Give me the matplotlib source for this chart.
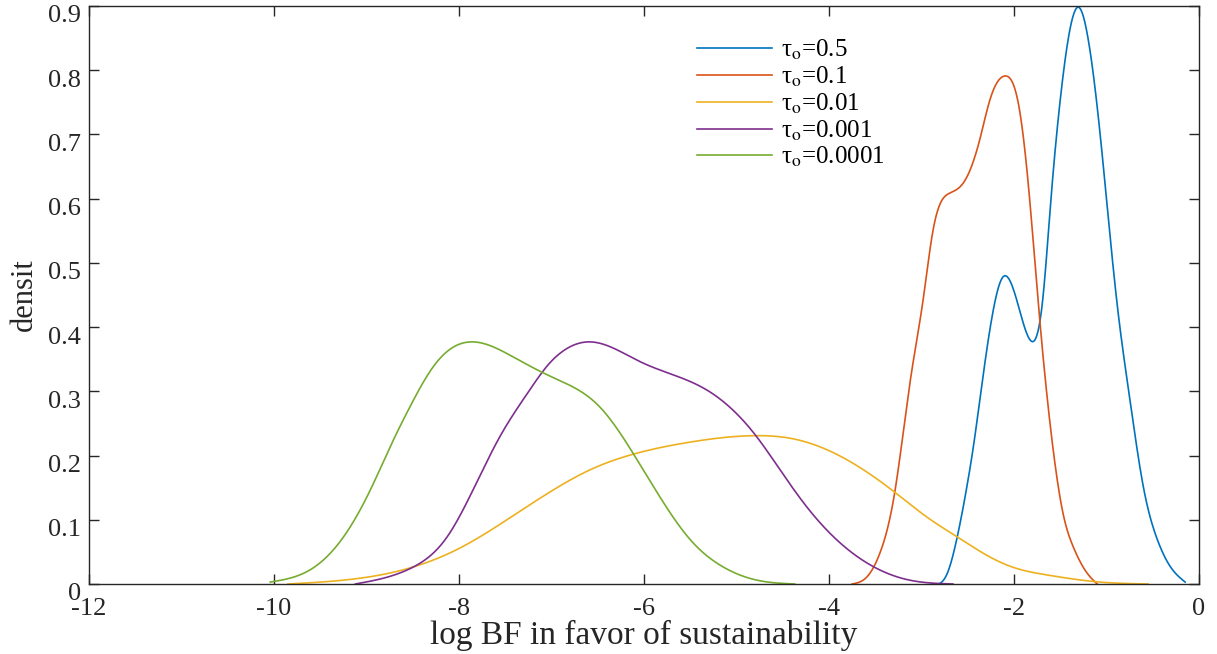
import numpy as np
import matplotlib
matplotlib.use('Agg')
import matplotlib.pyplot as plt
import matplotlib.transforms as mtransforms

plt.rcParams['font.family'] = 'Liberation Serif'
plt.rcParams['mathtext.fontset'] = 'stix'
plt.rcParams['axes.unicode_minus'] = False

# density curves (x = log BF, y = density)
x_05 = [-2.89, -2.72, -2.62, -2.51, -2.44, -2.34, -2.23, -2.12, -1.97, -1.82,
        -1.69, -1.60, -1.50, -1.40, -1.30, -1.20, -1.07, -0.89, -0.75, -0.60,
        -0.45, -0.31, -0.15]
y_05 = [0.0, 0.017, 0.069, 0.151, 0.213, 0.318, 0.422, 0.478, 0.442, 0.379,
        0.442, 0.60, 0.754, 0.86, 0.898, 0.85, 0.702, 0.442, 0.29, 0.15,
        0.069, 0.027, 0.003]

x_01 = [-3.75, -3.59, -3.45, -3.29, -3.12, -2.98, -2.88, -2.69, -2.55, -2.37,
        -2.26, -2.10, -1.94, -1.83, -1.74, -1.58, -1.47, -1.36, -1.21, -1.10]
y_01 = [0.0, 0.011, 0.048, 0.142, 0.318, 0.445, 0.547, 0.609, 0.624, 0.692,
        0.754, 0.791, 0.738, 0.598, 0.442, 0.213, 0.110, 0.058, 0.017, 0.0]

x_001 = [-9.85, -9.07, -8.53, -7.99, -7.45, -7.02, -6.58, -6.12, -5.50, -4.78,
         -4.42, -3.99, -3.29, -2.94, -2.61, -2.26, -2.01, -1.64, -1.07, -0.55]
y_001 = [0.0, 0.009, 0.025, 0.056, 0.103, 0.143, 0.178, 0.202, 0.221, 0.231,
         0.227, 0.207, 0.143, 0.104, 0.073, 0.042, 0.026, 0.014, 0.003, 0.0]

x_0001 = [-9.12, -8.50, -8.13, -7.85, -7.56, -7.26, -7.02, -6.91, -6.58, -6.04,
          -5.69, -5.32, -5.04, -4.78, -4.53, -4.24, -3.99, -3.88, -3.52, -3.16,
          -2.66]
y_0001 = [0.0, 0.026, 0.073, 0.146, 0.229, 0.297, 0.344, 0.359, 0.377, 0.346,
          0.326, 0.302, 0.271, 0.229, 0.178, 0.120, 0.079, 0.064, 0.027, 0.007,
          0.0]

x_00001 = [-10.04, -9.61, -9.25, -8.96, -8.71, -8.53, -8.28, -8.06, -7.85, -7.42,
           -7.05, -6.77, -6.48, -6.12, -5.83, -5.50, -5.15, -4.78, -4.37]
y_00001 = [0.003, 0.022, 0.073, 0.146, 0.224, 0.276, 0.338, 0.369, 0.377, 0.354,
           0.326, 0.307, 0.276, 0.204, 0.136, 0.069, 0.027, 0.006, 0.0]

labels = ['τ$_\\mathrm{o}$=0.5', 'τ$_\\mathrm{o}$=0.1', 'τ$_\\mathrm{o}$=0.01',
          'τ$_\\mathrm{o}$=0.001', 'τ$_\\mathrm{o}$=0.0001']
colors = ['#0072BD', '#D95319', '#EDB120', '#7E2F8E', '#77AC30']
series = [(x_05, y_05), (x_01, y_01), (x_001, y_001), (x_0001, y_0001), (x_00001, y_00001)]


def smooth(xs, ys, n=400):
    # natural cubic spline through the read points, only for drawing
    xs = np.asarray(xs, float)
    ys = np.asarray(ys, float)
    N = len(xs)
    h = np.diff(xs)
    A = np.zeros((N, N))
    b = np.zeros(N)
    A[0, 0] = A[-1, -1] = 1
    for i in range(1, N - 1):
        A[i, i - 1] = h[i - 1]
        A[i, i] = 2 * (h[i - 1] + h[i])
        A[i, i + 1] = h[i]
        b[i] = 6 * ((ys[i + 1] - ys[i]) / h[i] - (ys[i] - ys[i - 1]) / h[i - 1])
    M = np.linalg.solve(A, b)
    xx = np.linspace(xs[0], xs[-1], n)
    k = np.clip(np.searchsorted(xs, xx) - 1, 0, N - 2)
    a = xs[k + 1] - xx
    c = xx - xs[k]
    hk = h[k]
    yy = (M[k] * a**3 / (6 * hk) + M[k + 1] * c**3 / (6 * hk)
          + (ys[k] / hk - M[k] * hk / 6) * a + (ys[k + 1] / hk - M[k + 1] * hk / 6) * c)
    return xx, np.clip(yy, 0, None)


fig = plt.figure(figsize=(12.17, 6.54), dpi=100)
ax = fig.add_axes([89 / 1217, 70 / 654, 1110 / 1217, 578 / 654])

for (xs, ys), c, lab in zip(series, colors, labels):
    xx, yy = smooth(xs, ys)
    ax.plot(xx, yy, color=c, lw=1.2, label=lab)

ax.set_xlim(-12, 0)
ax.set_ylim(0, 0.9)
ax.set_xticks(np.arange(-12, 1, 2))
ax.set_yticks(np.arange(0, 0.91, 0.1))
ax.set_yticklabels(['0'] + ['%.1f' % v for v in np.arange(0.1, 0.91, 0.1)])
ax.tick_params(direction='in', top=True, right=True, length=7, width=1.0,
               labelsize=19, colors='#262626', pad=6)
ax.tick_params(axis='x', pad=10)
for s in ax.spines.values():
    s.set_color('#262626')
    s.set_linewidth(1.0)

# MATLAB puts the y tick labels a bit below the ticks
off = mtransforms.ScaledTranslation(0, -8 / 100, fig.dpi_scale_trans)
for lab in ax.get_yticklabels():
    lab.set_transform(lab.get_transform() + off)

ax.set_ylabel('densit', fontsize=22, color='#262626', labelpad=6)
ax.set_xlabel('log BF in favor of sustainability', fontsize=24, color='#262626', labelpad=0)

ax.legend(loc='upper left', bbox_to_anchor=(598 / 1110, 0.962), frameon=False,
          fontsize=18, handlelength=3.0, handletextpad=0.35, labelspacing=0.1,
          borderaxespad=0)

fig.savefig('out.png', dpi=100)
